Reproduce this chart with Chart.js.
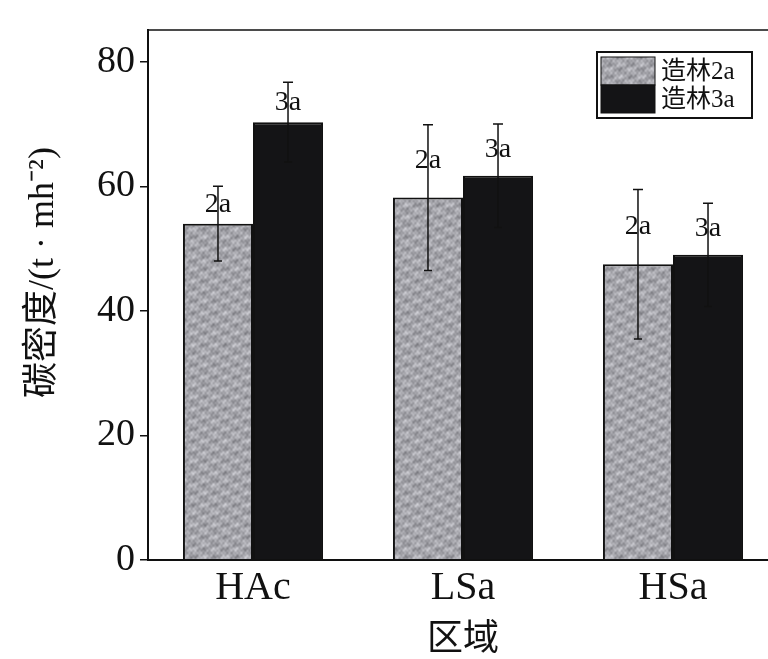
<!DOCTYPE html>
<html>
<head>
<meta charset="utf-8">
<script src="https://cdn.jsdelivr.net/npm/chart.js@4.4.0/dist/chart.umd.min.js"></script>
<style>
  html, body { margin: 0; padding: 0; background: #fff; overflow: hidden; }
  #wrap { width: 790px; height: 659px; position: relative; }
</style>
</head>
<body>
<div id="wrap"><canvas id="chart"></canvas></div>
<script>
// data
const categories = ['HAc', 'LSa', 'HSa'];
const seriesNames = ['造林2a', '造林3a'];
const values2a = [54.0, 58.2, 47.5];
const values3a = [70.3, 61.7, 49.0];
const err2a = [6.0, 11.7, 12.0];
const err3a = [6.4, 8.3, 8.3];
const marks2a = ['2a', '2a', '2a'];
const marks3a = ['3a', '3a', '3a'];
const yTicks = [0, 20, 40, 60, 80];

const SERIF = '"Liberation Serif", "Times New Roman", serif';
const CJK = '"Liberation Serif", "Noto Sans CJK SC", serif';

// mottled grey fill for the 2a bars
function greyTexture() {
    const n = 64;
    const c = document.createElement('canvas');
    c.width = n; c.height = n;
    const g = c.getContext('2d');
    const img = g.createImageData(n, n);
    const k = 2 * Math.PI / n;
    for (let y = 0; y < n; y++) {
        for (let x = 0; x < n; x++) {
            const v = 165
                + 22 * Math.sin(x * k * 3 + 1.3) * Math.cos(y * k * 5 + 0.4)
                + 16 * Math.sin((x + y) * k * 7) * Math.cos((x - y) * k * 4)
                + 10 * Math.sin(x * k * 16) * Math.sin(y * k * 13);
            const i = (y * n + x) * 4;
            img.data[i] = v; img.data[i + 1] = v; img.data[i + 2] = v + 6; img.data[i + 3] = 255;
        }
    }
    g.putImageData(img, 0, 0);
    return g.createPattern(c, 'repeat');
}
const ctx = document.getElementById('chart').getContext('2d');
const greyFill = greyTexture();

// error bars + letter marks
const errorBars = {
    id: 'errorBars',
    afterDatasetsDraw(chart) {
        const c = chart.ctx, y = chart.scales.y;
        chart.data.datasets.forEach((ds, di) => {
            chart.getDatasetMeta(di).data.forEach((bar, i) => {
                const v = ds.data[i], e = ds.errors[i];
                const yt = y.getPixelForValue(v + e);
                const yb = y.getPixelForValue(v - e);
                const yv = y.getPixelForValue(v);
                c.save();
                c.strokeStyle = '#111';
                c.lineWidth = 1.5;
                c.beginPath();
                c.moveTo(bar.x, yt); c.lineTo(bar.x, yb);
                c.moveTo(bar.x - 5, yt); c.lineTo(bar.x + 5, yt);
                c.moveTo(bar.x - 4, yb); c.lineTo(bar.x + 4, yb);
                c.stroke();
                c.fillStyle = '#111';
                c.font = '28px ' + SERIF;
                c.textAlign = 'center';
                c.textBaseline = 'middle';
                c.fillText(ds.marks[i], bar.x, (yt + yv) / 2);
                c.restore();
            });
        });
    }
};

// frame + boxed legend in the top right corner
const frameLegend = {
    id: 'frameLegend',
    afterDraw(chart) {
        const c = chart.ctx, a = chart.chartArea;
        c.save();
        c.strokeStyle = '#111';
        c.lineWidth = 1.5;
        c.strokeRect(a.left, a.top, a.right - a.left, a.bottom - a.top);

        const lx = a.right - 181, ly = a.top + 22;
        c.fillStyle = '#fff';
        c.fillRect(lx, ly, 155, 66);
        c.lineWidth = 2;
        c.strokeRect(lx, ly, 155, 66);
        c.lineWidth = 1;
        chart.data.datasets.forEach((ds, i) => {
            const py = ly + 5 + i * 28;
            c.fillStyle = ds.backgroundColor;
            c.fillRect(lx + 4, py, 54, 28);
            c.strokeRect(lx + 4, py, 54, 28);
            c.fillStyle = '#111';
            c.font = '25px ' + CJK;
            c.textAlign = 'left';
            c.textBaseline = 'middle';
            c.fillText(ds.label, lx + 64, py + 15);
        });
        c.restore();
    }
};

new Chart(ctx, {
    type: 'bar',
    data: {
        labels: categories,
        datasets: [
            { label: seriesNames[0], data: values2a, errors: err2a, marks: marks2a,
              backgroundColor: greyFill, borderColor: '#111', borderWidth: 2 },
            { label: seriesNames[1], data: values3a, errors: err3a, marks: marks3a,
              backgroundColor: '#141416', borderColor: '#111', borderWidth: 2 }
        ]
    },
    options: {
        responsive: true,
        maintainAspectRatio: false,
        animation: false,
        layout: { padding: { top: 30, right: 12, left: 0, bottom: 0 } },
        plugins: { legend: { display: false }, tooltip: { enabled: false } },
        datasets: { bar: { categoryPercentage: 0.667, barPercentage: 1.0 } },
        scales: {
            x: {
                grid: { display: false },
                border: { display: true, color: '#111', width: 2 },
                ticks: { color: '#111', font: { family: SERIF, size: 40 }, padding: -4 },
                title: { display: true, text: '区域', color: '#111',
                         font: { family: CJK, size: 36, lineHeight: 1 }, padding: { top: 0, bottom: 0 } },
                afterFit: s => { s.height = 99; }
            },
            y: {
                min: 0, max: 85.1,
                afterBuildTicks: s => { s.ticks = yTicks.map(v => ({ value: v })); },
                grid: { drawOnChartArea: false, drawTicks: true, tickLength: 8, color: '#111', lineWidth: 1.5 },
                border: { display: true, color: '#111', width: 2 },
                ticks: { color: '#111', font: { family: SERIF, size: 38 }, padding: 5 },
                title: { display: true, text: '     碳密度/(t · mh⁻²)', color: '#111',
                         font: { family: CJK, size: 36 }, padding: { top: 22, bottom: 0 } },
                afterFit: s => { s.width = 148; }
            }
        }
    },
    plugins: [errorBars, frameLegend]
});
</script>
</body>
</html>
